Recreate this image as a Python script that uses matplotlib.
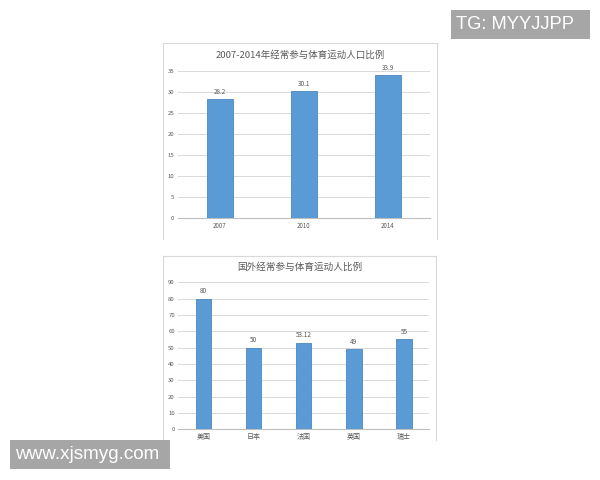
import matplotlib
matplotlib.use("Agg")
import matplotlib.pyplot as plt
from matplotlib.lines import Line2D
from matplotlib.patches import Rectangle

plt.rcParams['font.family'] = ['Noto Sans CJK SC', 'DejaVu Sans']

# Data
top_title = "2007-2014年经常参与体育运动人口比例"
top_categories = ["2007", "2010", "2014"]
top_values = [28.2, 30.1, 33.9]
top_labels = ["28.2", "30.1", "33.9"]
top_yticks = [0, 5, 10, 15, 20, 25, 30, 35]

bot_title = "国外经常参与体育运动人比例"
bot_categories = ["美国", "日本", "法国", "英国", "瑞士"]
bot_values = [80, 50, 53.12, 49, 55]
bot_labels = ["80", "50", "53.12", "49", "55"]
bot_yticks = [0, 10, 20, 30, 40, 50, 60, 70, 80, 90]

W, H = 600, 480
fig = plt.figure(figsize=(6, 4.8), dpi=100)
fig.patch.set_facecolor('white')

def fx(px):
    return px / W

def fy(py):
    return 1 - py / H

BORDER = '#d9d9d9'
TXT = '#595959'
GRID = '#d9d9d9'
BAR = '#5B9BD5'
BAR_EDGE = '#4a86c0'

def box(x0, y0, x1, y1):
    # left, top, right edges (bottom is cut off in the reference)
    fig.add_artist(Line2D([fx(x0), fx(x0)], [fy(y0), fy(y1)], color=BORDER, lw=0.8))
    fig.add_artist(Line2D([fx(x0), fx(x1)], [fy(y0), fy(y0)], color=BORDER, lw=0.8))
    fig.add_artist(Line2D([fx(x1), fx(x1)], [fy(y0), fy(y1)], color=BORDER, lw=0.8))

def chart(left, right, ytop, ybot, cats, vals, labels, yticks, title, title_y, title_fs, cat_fs):
    ax = fig.add_axes([fx(left), fy(ybot), fx(right) - fx(left), fy(ytop) - fy(ybot)])
    x = list(range(len(cats)))
    bars = ax.bar(x, vals, width=0.31, color=BAR, edgecolor=BAR_EDGE, linewidth=0.6, zorder=3)
    ax.set_xlim(-0.5, len(cats) - 0.5)
    ax.set_ylim(yticks[0], yticks[-1])
    ax.set_yticks(yticks)
    ax.set_xticks(x)
    ax.set_xticklabels(cats, fontsize=cat_fs, color=TXT)
    ax.tick_params(axis='y', labelsize=4.3, colors=TXT, length=0, pad=2.5)
    ax.tick_params(axis='x', length=0, pad=3, colors=TXT)
    ax.grid(axis='y', color=GRID, lw=0.7, zorder=0)
    for s in ['top', 'right', 'left']:
        ax.spines[s].set_visible(False)
    ax.spines['bottom'].set_color('#bfbfbf')
    ax.spines['bottom'].set_linewidth(0.8)
    ax.set_facecolor('none')
    ax.bar_label(bars, labels=labels, padding=2.5, fontsize=4.6, color=TXT)
    fig.text(fx(300), fy(title_y), title, ha='center', va='center', fontsize=title_fs, color=TXT)
    return ax

box(162.5, 43, 437, 240)
chart(177.7, 429.7, 70.7, 217.7, top_categories, top_values, top_labels, top_yticks,
      top_title, 55, 6.8, 4.4)

box(163, 256, 436, 440)
chart(178.3, 429, 282.3, 429.3, bot_categories, bot_values, bot_labels, bot_yticks,
      bot_title, 267, 6.9, 5.0)

# cover area below top chart (cut-off)
fig.add_artist(Rectangle((0, fy(250)), 1, fy(240) - fy(250), transform=fig.transFigure,
                         facecolor='white', edgecolor='none', zorder=5))

# Watermarks
fig.add_artist(Rectangle((fx(451), fy(39)), fx(590) - fx(451), fy(10) - fy(39),
                         transform=fig.transFigure, facecolor='#a6a6a6', edgecolor='none', zorder=6))
fig.text(fx(456), fy(24.5), "TG: MYYJJPP", ha='left', va='center', fontsize=13.2,
         color='white', family=['Liberation Sans', 'DejaVu Sans'], zorder=7)

fig.add_artist(Rectangle((fx(10), fy(469)), fx(170) - fx(10), fy(440) - fy(469),
                         transform=fig.transFigure, facecolor='#a6a6a6', edgecolor='none', zorder=6))
fig.text(fx(15.5), fy(454.5), "www.xjsmyg.com", ha='left', va='center', fontsize=13.6,
         color='white', family=['Liberation Sans', 'DejaVu Sans'], zorder=7)

fig.savefig("out.png", dpi=100, facecolor='white')
